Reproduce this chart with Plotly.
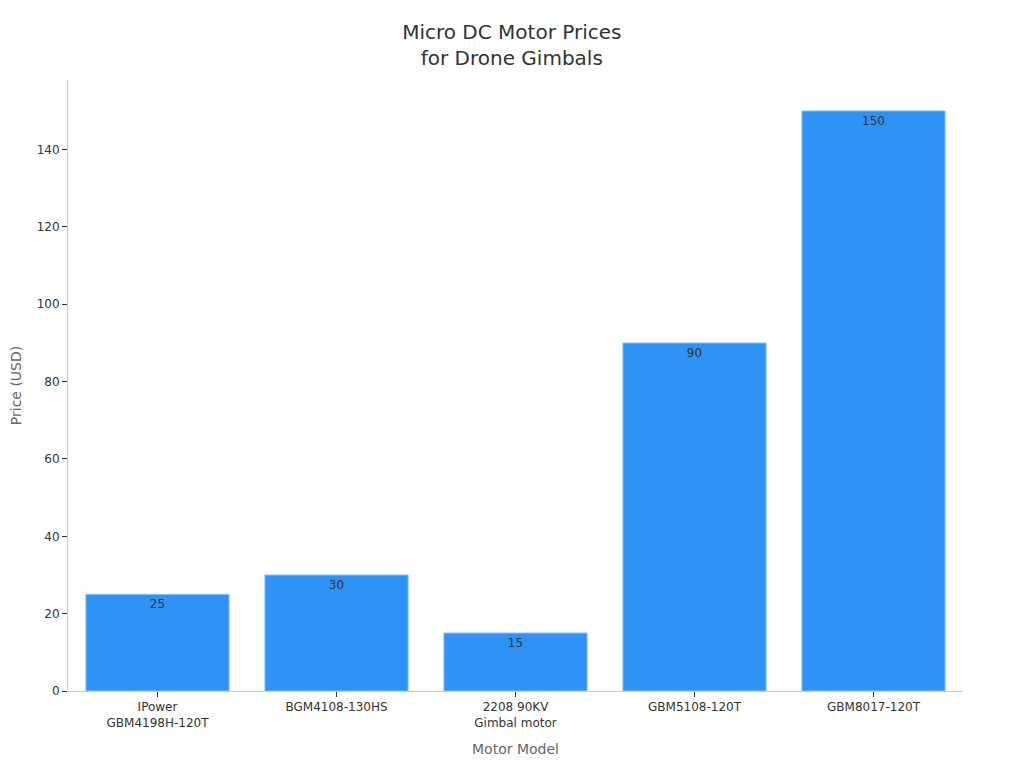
import plotly.graph_objects as go

# chart data
models = ["IPower<br>GBM4198H-120T", "BGM4108-130HS", "2208 90KV<br>Gimbal motor",
          "GBM5108-120T", "GBM8017-120T"]
prices = [25, 30, 15, 90, 150]

fig = go.Figure(go.Bar(
    x=models,
    y=prices,
    text=prices,
    textposition="inside",
    insidetextanchor="end",
    textfont=dict(color="#333333", size=12),
    marker=dict(color="#2E93F5", line=dict(color="#8CC4F8", width=1)),
))

# page body has an 8px margin, so margins are shifted to line up with the reference
fig.update_layout(
    title=dict(text="Micro DC Motor Prices<br>for Drone Gimbals", x=0.492, xanchor="center",
               y=0.96, font=dict(size=20, color="#333333")),
    font=dict(family="DejaVu Sans", color="#333333", size=12),
    plot_bgcolor="white",
    paper_bgcolor="white",
    width=1024, height=768,
    margin=dict(l=60, r=69, t=72, b=85),
    bargap=0.2,
    showlegend=False,
)
fig.update_xaxes(
    title=dict(text="Motor Model", font=dict(size=14, color="#666666")),
    showline=True, linecolor="#CCCCCC", ticks="outside", tickcolor="#333333",
    ticklen=5, showgrid=False, automargin=False,
)
fig.update_yaxes(
    title=dict(text="Price (USD)", font=dict(size=14, color="#666666")),
    range=[0, 158], showline=True, linecolor="#CCCCCC", ticks="outside",
    tickcolor="#333333", ticklen=5, showgrid=False, zeroline=False, dtick=20,
    automargin=False,
)

fig.write_html("out.html")
